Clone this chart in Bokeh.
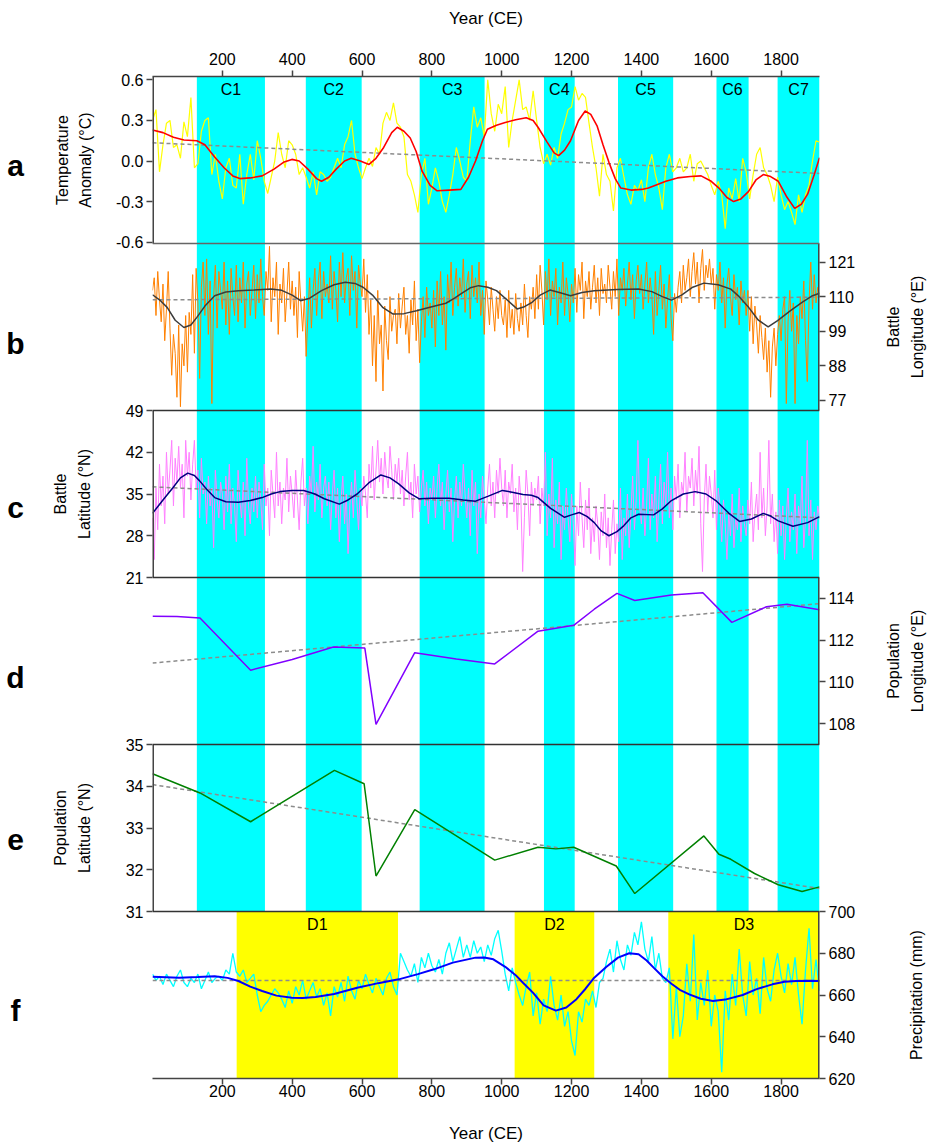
import numpy as np
from bokeh.plotting import figure
from bokeh.models import Range1d, LinearAxis, FixedTicker, Span, BoxAnnotation
from bokeh.layouts import row
from bokeh.embed import file_html
from bokeh.resources import INLINE
from bokeh.core.properties import value

# ---------------- data ----------------
cold_start = [127, 439, 765, 1121, 1333, 1615, 1790]
cold_end = [322, 599, 951, 1209, 1491, 1707, 1910]
cold_labels = ["C1", "C2", "C3", "C4", "C5", "C6", "C7"]
dry_start = [241, 1037, 1477]
dry_end = [703, 1265, 1910]
dry_labels = ["D1", "D2", "D3"]
year_ticks = [200, 400, 600, 800, 1000, 1200, 1400, 1600, 1800]

temp_ticks = [-0.6, -0.3, 0.0, 0.3, 0.6]
lon_ticks = [77, 88, 99, 110, 121]
lat_ticks = [21, 28, 35, 42, 49]
plon_ticks = [108, 110, 112, 114]
plat_ticks = [31, 32, 33, 34, 35]
precip_ticks = [620, 640, 660, 680, 700]

temp_years = list(range(0, 1911, 10))
temp = [0.30, 0.38, -0.08, 0.12, 0.28, 0.30, 0.10, 0.12, 0.02, 0.29,
        0.18, 0.47, -0.05, -0.02, 0.22, 0.30, 0.32, -0.10, 0.05, -0.15,
        -0.28, -0.05, 0.02, -0.18, -0.20, 0.05, -0.32, -0.10, 0.05, -0.14,
        0.15, 0.02, -0.15, -0.24, -0.12, 0.00, 0.21, 0.05, -0.05, 0.15,
        0.12, 0.05, -0.10, -0.05, -0.12, -0.20, -0.08, -0.25, -0.08, -0.10,
        -0.15, -0.12, -0.05, 0.02, -0.05, 0.12, 0.18, 0.30, 0.05, -0.05,
        -0.13, -0.05, 0.02, -0.04, 0.10, 0.05, 0.28, 0.36, 0.30, 0.43,
        0.28, 0.25, 0.18, -0.10, -0.15, -0.25, -0.38, -0.10, 0.02, -0.32,
        -0.20, -0.05, -0.15, -0.30, -0.38, -0.25, -0.10, 0.10, 0.00, -0.12,
        -0.15, 0.15, 0.40, 0.25, 0.32, 0.18, 0.60, 0.35, 0.22, 0.42,
        0.35, 0.55, 0.10, 0.30, 0.45, 0.60, 0.38, 0.40, 0.30, 0.52,
        0.30, 0.10, -0.02, 0.05, -0.03, 0.10, 0.02, 0.20, 0.28, 0.38,
        0.40, 0.55, 0.45, 0.50, 0.47, 0.28, 0.10, -0.05, -0.26, 0.05,
        -0.10, -0.15, -0.37, -0.05, 0.02, -0.12, -0.25, -0.32, -0.18, -0.22,
        -0.14, -0.30, -0.05, 0.05, -0.10, -0.20, -0.36, -0.05, 0.05, -0.08,
        -0.05, 0.02, -0.08, -0.05, 0.05, -0.15, -0.02, 0.00, -0.05, -0.10,
        -0.18, -0.25, -0.15, -0.25, -0.50, -0.20, -0.28, -0.13, -0.30, 0.02,
        -0.08, -0.28, -0.10, 0.05, 0.10, -0.05, -0.10, -0.18, -0.30, -0.12,
        -0.25, -0.36, -0.30, -0.38, -0.47, -0.25, -0.38, -0.25, -0.18, 0.00,
        0.15, 0.14]
temp_smooth_years = [0, 30, 60, 90, 127, 150, 178, 205, 230, 250, 280, 314, 348, 375, 399, 420, 445, 470,
                     484, 505, 526, 550, 569, 595, 620, 640, 662, 685, 701, 720, 738, 755, 772, 795, 815,
                     850, 883, 905, 925, 945, 959, 985, 1010, 1040, 1070, 1090, 1104, 1130, 1150, 1163,
                     1180, 1197, 1220, 1239, 1255, 1273, 1290, 1307, 1325, 1341, 1370, 1401, 1420, 1435,
                     1470, 1503, 1540, 1571, 1600, 1622, 1645, 1664, 1685, 1707, 1728, 1749, 1770, 1792,
                     1815, 1839, 1858, 1876, 1895, 1910]
temp_smooth = [0.23, 0.21, 0.175, 0.155, 0.15, 0.12, 0.03, -0.05, -0.11, -0.13, -0.125, -0.11, -0.06,
               -0.01, 0.012, 0.0, -0.06, -0.13, -0.15, -0.12, -0.06, 0.0, 0.02, 0.0, -0.025, 0.02, 0.1,
               0.21, 0.25, 0.22, 0.17, 0.07, -0.075, -0.18, -0.22, -0.215, -0.21, -0.12, 0.0, 0.15,
               0.235, 0.265, 0.285, 0.305, 0.32, 0.3, 0.25, 0.14, 0.06, 0.04, 0.08, 0.15, 0.3, 0.37,
               0.345, 0.26, 0.12, -0.01, -0.13, -0.2, -0.215, -0.21, -0.2, -0.185, -0.15, -0.125,
               -0.115, -0.11, -0.15, -0.2, -0.27, -0.3, -0.28, -0.225, -0.14, -0.10, -0.115, -0.15,
               -0.26, -0.35, -0.32, -0.245, -0.1, 0.025]
temp_trend = [0.135, -0.092]

battle_years = list(range(0, 1911, 5))
battle_lon = [112, 116, 104, 118, 109, 102, 114, 96, 106, 118, 100, 85, 98, 92, 78, 101, 75, 95, 88, 104,
              86, 105, 98, 117, 92, 119, 108, 84, 113, 121, 104, 122, 98, 115, 76, 110, 120, 100, 118, 112,
              106, 121, 101, 115, 98, 119, 110, 104, 120, 102, 116, 108, 121, 100, 114, 118, 104, 112, 120, 103,
              117, 108, 122, 110, 104, 118, 112, 126, 102, 116, 110, 121, 98, 114, 108, 119, 102, 111, 121, 106,
              115, 104, 113, 97, 118, 108, 99, 110, 91, 104, 116, 100, 112, 119, 104, 115, 121, 103, 118, 110,
              114, 108, 123, 106, 118, 112, 102, 121, 110, 124, 108, 116, 119, 104, 123, 112, 118, 100, 120, 114,
              110, 122, 105, 117, 98, 109, 88, 104, 83, 112, 95, 101, 80, 107, 96, 90, 110, 99, 104, 106,
              95, 111, 100, 107, 113, 98, 104, 92, 109, 101, 115, 96, 106, 89, 102, 110, 97, 113, 104, 108,
              100, 112, 94, 115, 104, 118, 101, 110, 93, 117, 108, 121, 104, 113, 119, 107, 116, 110, 122, 105,
              114, 118, 103, 120, 110, 116, 108, 121, 104, 112, 98, 115, 109, 101, 113, 106, 99, 110, 103, 112,
              104, 101, 109, 97, 112, 100, 106, 98, 111, 103, 99, 108, 101, 114, 104, 97, 110, 106, 113, 103,
              117, 106, 120, 112, 101, 118, 109, 122, 104, 115, 110, 119, 101, 113, 108, 121, 104, 116, 111, 102,
              114, 108, 119, 105, 117, 112, 121, 103, 115, 110, 118, 106, 113, 120, 108, 116, 104, 119, 111, 114,
              108, 120, 113, 106, 118, 110, 122, 104, 116, 112, 119, 107, 114, 121, 109, 117, 103, 115, 120, 111,
              117, 106, 114, 121, 108, 116, 110, 98, 118, 104, 112, 120, 106, 114, 100, 109, 117, 103, 96, 111,
              105, 113, 118, 108, 120, 112, 116, 122, 110, 118, 124, 114, 121, 108, 119, 125, 112, 120, 116, 122,
              114, 119, 106, 117, 112, 121, 108, 116, 100, 114, 119, 110, 104, 117, 109, 113, 101, 115, 108, 112,
              104, 112, 99, 110, 95, 107, 101, 92, 104, 97, 90, 100, 86, 96, 78, 94, 100, 88, 98, 104,
              96, 106, 110, 76, 102, 112, 99, 108, 76, 104, 95, 110, 103, 115, 96, 83, 108, 121, 106, 117,
              108, 113, 110]
lon_smooth_years = [0, 20, 42, 65, 90, 110, 127, 150, 178, 210, 246, 290, 339, 370, 400, 424, 450, 484, 520,
                    552, 580, 603, 630, 660, 688, 720, 756, 800, 840, 865, 883, 910, 934, 960, 985, 1015,
                    1044, 1065, 1087, 1110, 1138, 1165, 1197, 1230, 1265, 1330, 1392, 1430, 1460, 1486,
                    1515, 1545, 1579, 1620, 1656, 1680, 1707, 1735, 1763, 1790, 1826, 1860, 1890, 1910]
lon_smooth = [110.6, 109, 106.6, 102.5, 100.2, 101, 103.4, 107, 110.3, 111.5, 111.9, 112.1, 112.4, 112,
              110.5, 108.7, 109.5, 111.9, 113.8, 114.6, 114.2, 113, 110.5, 106.5, 104.5, 104.6, 105.5,
              106.8, 107.9, 109.5, 110.9, 112.8, 113.5, 113, 111.9, 109, 106.1, 106.8, 108.2, 110.5,
              112.1, 111.3, 110.3, 111.3, 111.9, 112.3, 112.4, 111.6, 110, 108.9, 110.5, 112.9, 114.3,
              113.8, 112.4, 110, 106.6, 102.5, 100.4, 102.4, 105.5, 108.2, 110.3, 111.1]
lon_trend = [109.0, 109.8]

battle_lat = [31, 24, 36, 29, 40, 33, 38, 30, 42, 35, 39, 44, 33, 41, 37, 43, 36, 40, 31, 44,
              38, 42, 34, 40, 44, 36, 39, 31, 41, 35, 37, 30, 38, 33, 36, 26, 39, 34, 31, 37,
              35, 29, 38, 32, 40, 30, 36, 33, 27, 39, 34, 31, 37, 28, 41, 33, 30, 36, 32, 38,
              31, 37, 34, 29, 40, 33, 36, 28, 39, 35, 31, 42, 33, 37, 30, 36, 34, 41, 32, 38,
              35, 31, 39, 34, 29, 37, 41, 33, 36, 30, 38, 35, 43, 32, 37, 34, 40, 31, 36, 38,
              33, 37, 29, 35, 39, 31, 36, 27, 34, 38, 30, 35, 25, 33, 37, 31, 39, 34, 29, 36,
              33, 38, 35, 31, 40, 36, 43, 34, 39, 44, 37, 41, 35, 42, 38, 36, 43, 39, 34, 40,
              37, 41, 35, 39, 33, 38, 42, 34, 37, 31, 40, 35, 38, 32, 36, 39, 33, 37, 30, 36,
              34, 38, 31, 36, 40, 33, 37, 29, 35, 39, 32, 36, 27, 34, 38, 31, 37, 33, 40, 35,
              31, 36, 28, 39, 33, 37, 25, 35, 31, 38, 34, 30, 36, 40, 33, 37, 31, 39, 35, 41,
              36, 33, 39, 31, 37, 35, 40, 32, 36, 29, 38, 34, 22, 31, 39, 35, 28, 37, 33, 36,
              34, 38, 30, 36, 33, 42, 28, 35, 31, 41, 26, 34, 30, 37, 24, 33, 29, 36, 31, 27,
              35, 30, 23, 33, 28, 37, 31, 26, 34, 29, 36, 25, 31, 27, 33, 30, 24, 32, 28, 35,
              26, 31, 23, 29, 34, 25, 30, 27, 36, 24, 31, 28, 35, 26, 32, 38, 29, 34, 44, 33,
              30, 36, 28, 33, 41, 29, 35, 31, 38, 27, 34, 40, 30, 37, 33, 42, 31, 36, 29, 38,
              34, 40, 31, 37, 35, 42, 32, 38, 36, 41, 33, 39, 35, 43, 30, 22, 34, 40, 32, 38,
              35, 31, 39, 29, 36, 33, 27, 34, 30, 24, 32, 28, 35, 26, 31, 29, 36, 27, 33, 30,
              28, 34, 30, 37, 27, 32, 35, 29, 42, 31, 36, 28, 33, 44, 30, 35, 27, 32, 25, 34,
              28, 33, 24, 31, 36, 27, 32, 29, 35, 25, 33, 30, 38, 26, 31, 44, 28, 34, 24, 32,
              29, 33, 31]
lat_smooth_years = [0, 30, 59, 80, 101, 120, 135, 155, 178, 210, 246, 280, 314, 340, 365, 400, 433, 465,
                    492, 535, 560, 586, 620, 654, 680, 705, 735, 764, 800, 849, 890, 925, 960, 1002, 1030,
                    1061, 1085, 1104, 1140, 1180, 1200, 1222, 1245, 1265, 1285, 1307, 1330, 1350, 1370,
                    1392, 1435, 1460, 1486, 1520, 1554, 1585, 1613, 1650, 1681, 1715, 1749, 1770, 1792,
                    1834, 1876, 1910]
lat_smooth = [31.75, 34, 36.1, 37.7, 38.5, 38.1, 37.2, 35.8, 34.4, 33.7, 33.6, 33.9, 34.4, 35, 35.4, 35.6,
              35.6, 35, 34.2, 33.3, 34, 35, 36.9, 38.2, 37.7, 36.7, 35.2, 34.2, 34.3, 34.3, 34, 33.8, 34.6,
              35.6, 35.3, 34.9, 34.8, 34.4, 32.6, 31.1, 31.5, 31.9, 31.2, 30.2, 28.8, 28, 28.7, 29.7, 31,
              31.6, 31.5, 32.5, 33.9, 35, 35.4, 35, 33.9, 31.8, 30.4, 30.8, 31.75, 31.3, 30.5, 29.6, 30.2,
              31.2]
lat_trend = [36.2, 31.0]

pop_lon_years = [0, 70, 136, 281, 400, 518, 608, 640, 751, 870, 980, 1104, 1206, 1265, 1330, 1381, 1486,
                 1576, 1659, 1758, 1817, 1910]
pop_lon = [113.14, 113.13, 113.06, 110.56, 111.07, 111.67, 111.62, 107.96, 111.4, 111.1, 110.86, 112.43,
           112.71, 113.48, 114.24, 113.9, 114.16, 114.27, 112.85, 113.6, 113.72, 113.45]
pop_lon_trend = [110.9, 113.75]

pop_lat_years = [0, 136, 281, 521, 606, 640, 751, 980, 1104, 1155, 1206, 1328, 1381, 1579, 1622, 1656,
                 1724, 1792, 1860, 1910]
pop_lat = [34.3, 33.84, 33.15, 34.38, 34.06, 31.85, 33.44, 32.23, 32.54, 32.5, 32.54, 32.09, 31.43, 32.81,
           32.37, 32.25, 31.91, 31.64, 31.48, 31.59]
pop_lat_trend = [34.04, 31.55]

precip_years = list(range(0, 1911, 10))
precip = [670, 667, 669, 665, 670, 667, 664, 669, 672, 666,
          664, 668, 666, 670, 663, 667, 671, 666, 668, 669,
          667, 672, 670, 680, 671, 669, 672, 666, 668, 670,
          660, 652, 655, 657, 660, 663, 661, 658, 654, 662,
          656, 664, 660, 667, 658, 662, 666, 659, 663, 655,
          661, 650, 664, 659, 666, 657, 669, 662, 658, 667,
          663, 670, 665, 661, 668, 664, 660, 668, 671, 664,
          660, 680, 676, 672, 669, 675, 666, 678, 673, 680,
          674, 671, 677, 670, 680, 685, 676, 682, 688, 678,
          684, 678, 686, 680, 683, 676, 684, 679, 687, 691,
          681, 670, 662, 673, 666, 660, 655, 664, 671, 650,
          661, 646, 658, 652, 669, 655, 648, 660, 645, 652,
          638, 631, 652, 647, 658, 655, 662, 654, 666, 668,
          676, 682, 671, 686, 677, 672, 684, 679, 690, 684,
          695, 682, 676, 688, 672, 680, 668, 666, 673, 639,
          664, 640, 650, 675, 657, 689, 648, 666, 655, 672,
          645, 660, 652, 623, 662, 648, 670, 655, 682, 660,
          650, 676, 660, 668, 651, 678, 663, 657, 672, 680,
          669, 661, 675, 665, 678, 660, 646, 672, 692, 663,
          677, 662]
precip_smooth_years = [0, 76, 130, 178, 215, 246, 280, 314, 355, 399, 430, 467, 520, 586, 650, 705, 760,
                       806, 860, 925, 950, 976, 1010, 1040, 1061, 1090, 1120, 1155, 1185, 1214, 1240, 1265,
                       1300, 1333, 1365, 1392, 1415, 1435, 1460, 1486, 1510, 1537, 1570, 1605, 1640, 1690,
                       1730, 1775, 1810, 1843, 1880, 1910]
precip_smooth = [668.8, 668.3, 668.6, 669, 668.2, 666.7, 664, 661.9, 659.7, 658.7, 658.6, 659, 660.5,
                 663.5, 665.8, 667.5, 670, 672.3, 675.5, 677.9, 678, 677.1, 673.5, 669.5, 665.9, 661,
                 655, 652.5, 654, 658, 663, 668.3, 673.5, 677.9, 680, 679.5, 676.5, 673.1, 669, 665.4,
                 662.5, 660.3, 658.2, 657.1, 657.8, 660, 662.8, 665.1, 666.3, 666.7, 666.8, 666.7]
precip_trend = [667, 667]

# ---------------- layout / style ----------------
FONT = "Liberation Sans"
AX = "#444444"
X0, X1 = 0, 1910
FW, PH = 667, 167            # frame width, height of one panel
NP = 6
TOP, BOT = 76, 64
LW, RW = 100, 65             # side strips (titles / panel letters)
BL, BR = 152 - LW, 47

# panel name -> (low, high, slot from bottom)
panels = {"a": (-0.61, 0.625, 5), "b": (73.8, 126.9, 4), "c": (21.0, 49.0, 3),
          "d": (107.0, 115.0, 2), "e": (31.0, 35.0, 1), "f": (620.0, 700.0, 0)}


def slot_range(lo, hi, k):
    span = hi - lo
    return Range1d(lo - k * span, hi + (NP - 1 - k) * span)


def pos(name, v):
    lo, hi, k = panels[name]
    return k + (v - lo) / (hi - lo)


p = figure(frame_width=FW, frame_height=NP * PH, x_range=Range1d(X0, X1), y_range=Range1d(0, NP),
           x_axis_location=None, y_axis_location=None, toolbar_location=None, output_backend="svg",
           min_border_left=BL, min_border_right=BR, min_border_top=TOP, min_border_bottom=BOT,
           outline_line_color=None, background_fill_color="white", border_fill_color="white")
p.grid.visible = False
p.extra_y_ranges = {n: slot_range(*v) for n, v in panels.items()}

# bands
for s, e in zip(cold_start, cold_end):
    p.add_layout(BoxAnnotation(left=s, right=e, bottom=1, top=NP, fill_color="#00ffff", fill_alpha=1.0,
                               line_color=None, level="underlay"))
for s, e in zip(dry_start, dry_end):
    p.add_layout(BoxAnnotation(left=s, right=e, bottom=0, top=1, fill_color="#ffff00", fill_alpha=1.0,
                               line_color=None, level="underlay"))

trend_x = [X0, X1]
dash = dict(line_color="#8c8c8c", line_width=1.5, line_dash="4 3")

# a
p.line(temp_years, temp, line_color="#ffff00", line_width=1.2, y_range_name="a")
p.line(trend_x, temp_trend, y_range_name="a", **dash)
p.line(temp_smooth_years, temp_smooth, line_color="#ff0000", line_width=1.6, y_range_name="a")
# b
p.line(battle_years, battle_lon, line_color="#ff8000", line_width=1.0, y_range_name="b")
p.line(trend_x, lon_trend, y_range_name="b", **dash)
p.line(lon_smooth_years, lon_smooth, line_color="#3c3c3c", line_width=1.5, y_range_name="b")
# c
p.line(battle_years, battle_lat, line_color="#ff80ff", line_width=1.0, y_range_name="c")
p.line(trend_x, lat_trend, y_range_name="c", **dash)
p.line(lat_smooth_years, lat_smooth, line_color="#000080", line_width=1.5, y_range_name="c")
# d
p.line(trend_x, pop_lon_trend, y_range_name="d", **dash)
p.line(pop_lon_years, pop_lon, line_color="#8000ff", line_width=1.5, y_range_name="d")
# e
p.line(trend_x, pop_lat_trend, y_range_name="e", **dash)
p.line(pop_lat_years, pop_lat, line_color="#008000", line_width=1.5, y_range_name="e")
# f
p.line(precip_years, precip, line_color="#00ffff", line_width=1.3, y_range_name="f")
p.line(trend_x, precip_trend, y_range_name="f", **dash)
p.line(precip_smooth_years, precip_smooth, line_color="#0000ff", line_width=2.0, y_range_name="f")

# band labels
cx = (np.array(cold_start) + np.array(cold_end)) / 2
p.text(x=cx, y=[NP] * len(cx), text=cold_labels, text_font=value(FONT), text_font_size="16px",
       text_align="center", text_baseline="top", y_offset=4, text_color="black")
dx = (np.array(dry_start) + np.array(dry_end)) / 2
p.text(x=dx, y=[1] * len(dx), text=dry_labels, text_font=value(FONT), text_font_size="16px",
       text_align="center", text_baseline="top", y_offset=4, text_color="black")

# panel separators
for k in range(1, NP):
    p.add_layout(Span(location=k, dimension="width", line_color="#666666" if k == 5 else "#333333",
                      line_width=1.5))
# vertical frame sides (left: a, c, e ; right: b, d, f)
lk = [panels[n][2] for n in "ace"]
rk = [panels[n][2] for n in "bdf"]
p.segment(x0=[X0] * 3, y0=lk, x1=[X0] * 3, y1=[k + 1 for k in lk], line_color=AX, line_width=3)
p.segment(x0=[X1] * 3, y0=rk, x1=[X1] * 3, y1=[k + 1 for k in rk], line_color=AX, line_width=3)


def style_axis(ax, label_standoff=3):
    ax.axis_line_color = None
    ax.major_tick_line_color = AX
    ax.major_tick_line_width = 1.5
    ax.major_tick_in = 0
    ax.major_tick_out = 6
    ax.minor_tick_line_color = None
    ax.major_label_standoff = label_standoff
    ax.major_label_text_font = FONT
    ax.major_label_text_font_size = "16px"
    ax.major_label_text_color = "black"
    ax.axis_label_text_font = FONT
    ax.axis_label_text_font_size = "17px"
    ax.axis_label_text_font_style = "normal"
    ax.axis_label_text_color = "black"


# left axis: a, c, e
left_ticks, left_over = [], {}
for name, ticks, fmt in (("a", temp_ticks, "%.1f"), ("c", lat_ticks, "%d"), ("e", plat_ticks, "%d")):
    for v in ticks:
        t = pos(name, v)
        left_ticks.append(t)
        left_over[t] = fmt % v
lax = LinearAxis(ticker=FixedTicker(ticks=left_ticks), major_label_overrides=left_over)
style_axis(lax)
p.add_layout(lax, "left")

# right axis: b, d, f
right_ticks, right_over = [], {}
for name, ticks in (("b", lon_ticks), ("d", plon_ticks), ("f", precip_ticks)):
    for v in ticks:
        t = pos(name, v)
        right_ticks.append(t)
        right_over[t] = "%d" % v
rax = LinearAxis(ticker=FixedTicker(ticks=right_ticks), major_label_overrides=right_over)
style_axis(rax)
p.add_layout(rax, "right")

# top / bottom year axes
tax = LinearAxis(ticker=FixedTicker(ticks=year_ticks), axis_label="Year (CE)")
style_axis(tax, 6)
tax.axis_line_color = AX
tax.axis_line_width = 1.5
tax.axis_label_standoff = 22
p.add_layout(tax, "above")
bax = LinearAxis(ticker=FixedTicker(ticks=year_ticks), axis_label="Year (CE)")
style_axis(bax, 0)
bax.axis_line_color = AX
bax.axis_line_width = 1.5
bax.axis_label_standoff = 24
p.add_layout(bax, "below")

# side strips: same vertical structure as the main plot, y measured in page pixels from the top
PTOP, PBOT = TOP, TOP + NP * PH


def strip(w):
    s = figure(frame_width=w, frame_height=NP * PH, x_range=Range1d(0, w), y_range=Range1d(PBOT, PTOP),
               x_axis_location=None, y_axis_location=None, toolbar_location=None, output_backend="svg",
               min_border_left=0, min_border_right=0, min_border_top=TOP, min_border_bottom=BOT,
               outline_line_color=None, background_fill_color="white", border_fill_color="white")
    s.grid.visible = False
    return s


def mid(name):
    k = panels[name][2]
    return TOP + (NP - 1 - k + 0.5) * PH


def ptop(name):
    k = panels[name][2]
    return TOP + (NP - 1 - k) * PH


title_style = dict(text_font=value(FONT), text_font_size="16px", text_align="center",
                   text_baseline="middle", angle=np.pi / 2, text_color="black")

left = strip(LW)
left.text(x=[62, 85], y=[mid("a")] * 2, text=["Temperature", "Anomaly (°C)"], **title_style)
left.text(x=[60, 83.5], y=[mid("c")] * 2, text=["Battle", "Latitude (°N)"], **title_style)
left.text(x=[60, 83.5], y=[mid("e")] * 2, text=["Population", "Latitude (°N)"], **title_style)
left.text(x=[15] * 6,
          y=[ptop("a") + 89, ptop("b") + 100, ptop("c") + 97, ptop("d") + 100, ptop("e") + 95,
             ptop("f") + 99],
          text=list("abcdef"), text_font=value(FONT), text_font_size="30px", text_font_style="bold",
          text_align="center", text_baseline="alphabetic", text_color="black")

right = strip(RW)
right.text(x=[27, 51], y=[mid("b")] * 2, text=["Battle", "Longitude (°E)"], **title_style)
right.text(x=[27, 51], y=[mid("d")] * 2, text=["Population", "Longitude (°E)"], **title_style)
right.text(x=[50], y=[mid("f")], text=["Precipitation (mm)"], **title_style)

layout = row(left, p, right, spacing=0)
open("out.html", "w").write(file_html(layout, INLINE))
